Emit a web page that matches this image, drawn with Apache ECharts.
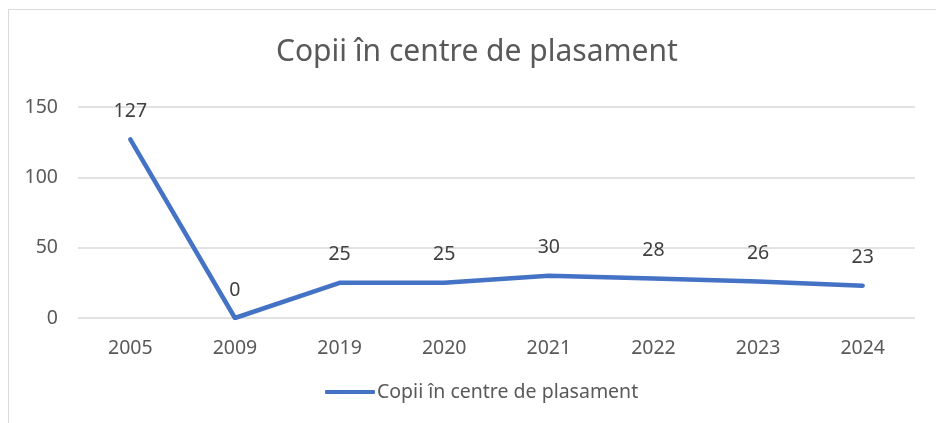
<!DOCTYPE html>
<html>
<head>
<meta charset="utf-8">
<script src="https://cdn.jsdelivr.net/npm/echarts@6/dist/echarts.min.js"></script>
<style>
  html, body { margin: 0; padding: 0; background: #fff; }
  #chart { width: 936px; height: 423px; }
</style>
</head>
<body>
<div id="chart"></div>
<script>
// date din grafic
var years = ['2005', '2009', '2019', '2020', '2021', '2022', '2023', '2024'];
var copii = [127, 0, 25, 25, 30, 28, 26, 23];
var numeSerie = 'Copii în centre de plasament';

var fontFam = '"Noto Sans", "Open Sans", sans-serif';
var myChart = echarts.init(document.getElementById('chart'));
var option = {
    backgroundColor: '#fff',
    textStyle: { fontFamily: fontFam },
    title: {
        text: numeSerie,
        left: 271,
        top: 32,
        textStyle: { fontSize: 30, fontWeight: 'normal', color: '#595959', fontFamily: fontFam }
    },
    graphic: [{
        type: 'rect',
        shape: { x: 8.5, y: 9.5, width: 940, height: 430 },
        style: { fill: 'none', stroke: '#d9d9d9', lineWidth: 1 },
        silent: true
    }],
    legend: {
        bottom: 16,
        left: 320,
        itemWidth: 50,
        itemHeight: 4,
        textStyle: { fontSize: 19.5, color: '#595959', fontFamily: fontFam, padding: [0, 0, 0, -3] },
        data: [{ name: numeSerie, icon: 'roundRect' }]
    },
    grid: { left: 78, right: 21, top: 107, bottom: 105 },
    xAxis: {
        type: 'category',
        data: years,
        boundaryGap: true,
        axisLine: { show: false },
        axisTick: { show: false },
        axisLabel: { fontSize: 19.5, color: '#595959', margin: 20, fontFamily: fontFam }
    },
    yAxis: {
        type: 'value',
        min: 0,
        max: 150,
        interval: 50,
        axisLine: { show: false },
        axisTick: { show: false },
        axisLabel: { fontSize: 19.5, color: '#595959', margin: 20, fontFamily: fontFam },
        splitLine: { lineStyle: { color: '#d9d9d9', width: 1.5 } }
    },
    series: [{
        name: numeSerie,
        type: 'line',
        data: copii,
        symbol: 'circle',
        symbolSize: 2,
        showSymbol: true,
        color: '#4472C4',
        itemStyle: { color: '#4472C4' },
        lineStyle: { width: 4.5, color: '#4472C4', cap: 'round', join: 'round' },
        label: {
            show: true,
            position: 'top',
            distance: 17,
            fontSize: 19.5,
            color: '#404040',
            fontFamily: fontFam
        }
    }]
};
myChart.setOption(option);
</script>
</body>
</html>
